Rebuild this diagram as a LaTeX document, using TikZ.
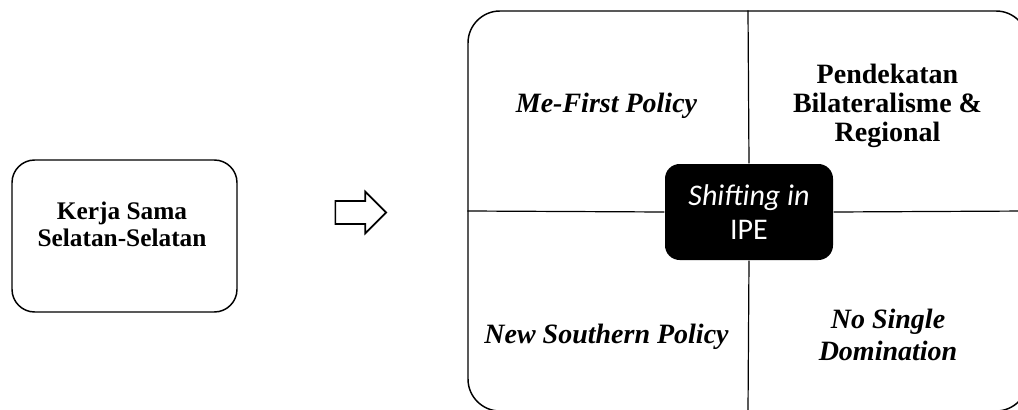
\documentclass[tikz,border=0pt]{standalone}
\usepackage{fontspec}
\setmainfont{Liberation Serif}
\newfontfamily\calibfont{Carlito}
\usetikzlibrary{positioning,shapes.arrows}

\begin{document}
\begin{tikzpicture}[x=0.75pt, y=-0.75pt, line width=1.1pt,
    every node/.style={align=center},
    quadtxt/.style={font=\bfseries\itshape\fontsize{21}{24}\selectfont},
    boldtxt/.style={font=\bfseries\fontsize{21}{21.5}\selectfont}]
  \def\px{0.75pt}
  \useasboundingbox (0,0) rectangle (1018,410);

  % left box
  \node[draw, rounded corners=17pt, minimum width=225*\px, minimum height=152*\px] (coop) at (124.5,236) {};
  \node[font=\bfseries\fontsize{19}{20.5}\selectfont] (cooptxt) at (122,224) {Kerja Sama\\Selatan-Selatan};

  % block arrow
  \node[draw, single arrow, inner xsep=0pt, inner ysep=7.9pt, line width=1.3pt,
        minimum height=38pt, single arrow head extend=7.1pt] (shift) at (355,212.5) {};

  % quadrants
  \node[draw, rounded corners=24pt, minimum width=560*\px, minimum height=400*\px] (quad) at (748,211) {};
  \node[fill=black, rounded corners=11pt, minimum width=168*\px, minimum height=96*\px, text=white,
        font=\calibfont\fontsize{22.5}{25}\selectfont] (core) at (749,212) {\textit{Shifting in}\\IPE};
  \foreach \a in {north, south, east, west}
    \draw[line width=0.9pt] (quad.\a) -- (core.\a);

  \node[quadtxt] (mefirst) at (606.5,106) {Me-First Policy};
  \node[boldtxt] (bilateral) at (887.5,106) {Pendekatan\\Bilateralisme \&\\Regional};
  \node[quadtxt] (newsouth) at (606.5,337) {New Southern Policy};
  \node[quadtxt] (nosingle) at (888,335) {No Single\\Domination};
\end{tikzpicture}
\end{document}
